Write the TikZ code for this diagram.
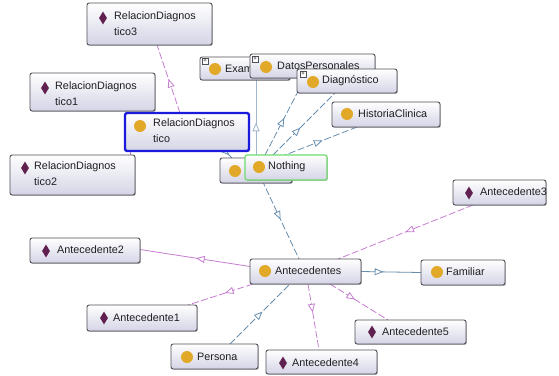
\documentclass[tikz,border=0pt]{standalone}
\usepackage{fontspec}
\setmainfont{Liberation Sans}
\usetikzlibrary{shapes.geometric,arrows.meta,decorations.markings,shadows,calc,backgrounds}
\definecolor{bord}{RGB}{80,80,88}
\definecolor{boxbot}{RGB}{212,212,230}
\definecolor{gold}{RGB}{226,168,40}
\definecolor{indc}{RGB}{96,32,80}
\definecolor{pinkE}{RGB}{198,124,208}
\definecolor{blueE}{RGB}{104,142,176}
\definecolor{blueL}{RGB}{160,182,206}
\definecolor{selb}{RGB}{26,26,220}
\definecolor{nothg}{RGB}{110,220,110}
\definecolor{txt}{RGB}{30,30,34}
\begin{document}
\begin{tikzpicture}[x=1pt,y=-1pt,
  ob/.style={draw=bord, line width=0.9pt, rounded corners=2.2pt, top color=white, bottom color=boxbot,
     anchor=north west, inner sep=0pt, outer sep=0pt,
     drop shadow={shadow xshift=0.9pt, shadow yshift=-0.9pt, opacity=0.45, fill=black!60}},
  cls/.style={circle, fill=gold, minimum size=12pt, inner sep=0pt},
  ind/.style={diamond, fill=indc, minimum width=8pt, minimum height=13pt, inner sep=0pt},
  lbl/.style={anchor=west, inner sep=0pt, font=\fontsize{10.8}{16}\selectfont, text=txt, align=left},
  plusb/.style={draw=bord, fill=white, line width=0.5pt, minimum size=6.5pt, inner sep=0pt,
     font=\fontsize{6}{6}\selectfont, anchor=center},
  edge/.style={line width=0.8pt},
  pinkd/.style={edge, draw=pinkE, dash pattern=on 7pt off 2.5pt},
  pinks/.style={edge, draw=pinkE},
  blued/.style={edge, draw=blueE, dash pattern=on 7pt off 2.5pt},
  blues/.style={edge, draw=blueE},
  midarr/.style={postaction={decorate}, decoration={markings,
     mark=at position #1 with {\arrow{Triangle[open, length=8.5pt, width=7pt, fill=white]}}}}
]
\useasboundingbox (0,0) rectangle (559,375);

% ---------- boxes ----------
% RelacionDiagnostico3
\node[ob, minimum width=125pt, minimum height=42pt] (rd3) at (87,3) {};
\node[ind] (rd3i) at (103,18) {};
\node[lbl, anchor=north west] (rd3t) at (114,11) {RelacionDiagnos\\tico3};
% RelacionDiagnostico1
\node[ob, minimum width=125pt, minimum height=38pt] (rd1) at (30,73) {};
\node[ind] (rd1i) at (45,88) {};
\node[lbl, anchor=north west] (rd1t) at (55,81) {RelacionDiagnos\\tico1};
% RelacionDiagnostico2
\node[ob, minimum width=125pt, minimum height=40pt] (rd2) at (10,155) {};
\node[ind] (rd2i) at (25,168) {};
\node[lbl, anchor=north west] (rd2t) at (34,161) {RelacionDiagnos\\tico2};
% Examen
\node[ob, minimum width=90pt, minimum height=23pt] (ex) at (200,57) {};
\node[plusb] (exp) at (205,61) {+};
\node[cls] (exi) at (215,69) {};
\node[lbl] (ext) at (225,69) {Examen};
% DatosPersonales
\node[ob, minimum width=125pt, minimum height=24pt] (dp) at (250,54) {};
\node[plusb] (dpp) at (255,59) {+};
\node[cls] (dpi) at (266,67) {};
\node[lbl] (dpt) at (277,66) {DatosPersonales};
% Diagnostico
\node[ob, minimum width=100pt, minimum height=24pt] (dg) at (297,69) {};
\node[plusb] (dgp) at (303,74) {+};
\node[cls] (dgi) at (313,82) {};
\node[lbl] (dgt) at (322,81) {Diagnóstico};
% HistoriaClinica
\node[ob, minimum width=108pt, minimum height=25pt] (hc) at (332,102) {};
\node[cls] (hci) at (347,114) {};
\node[lbl] (hct) at (358,114) {HistoriaClinica};
% hidden box behind Nothing
\node[ob, minimum width=72pt, minimum height=25pt] (th) at (220,158) {};
\node[cls] (thi) at (235,171) {};
% Nothing
\node[ob, draw=nothg, line width=1.2pt, minimum width=82pt, minimum height=25pt] (no) at (245,155) {};
\node[cls] (noi) at (259,167) {};
\node[lbl] (not) at (268,167) {Nothing};
% RelacionDiagnostico (selected)
\node[ob, draw=selb, line width=2.4pt, minimum width=124pt, minimum height=38pt] (rd) at (125,113) {};
\node[cls] (rdi) at (140,126) {};
\node[lbl, anchor=north west] (rdt) at (153,118) {RelacionDiagnos\\tico};
% Antecedente3
\node[ob, minimum width=93pt, minimum height=25pt] (a3) at (453,180) {};
\node[ind] (a3i) at (469,193) {};
\node[lbl] (a3t) at (480,192) {Antecedente3};
% Antecedente2
\node[ob, minimum width=110pt, minimum height=25pt] (a2) at (30,238) {};
\node[ind] (a2i) at (46,251) {};
\node[lbl] (a2t) at (57,250) {Antecedente2};
% Antecedentes
\node[ob, minimum width=111pt, minimum height=25pt] (an) at (250,259) {};
\node[cls] (ani) at (265,271) {};
\node[lbl] (ant) at (275,271) {Antecedentes};
% Familiar
\node[ob, minimum width=84pt, minimum height=25pt] (fa) at (421,260) {};
\node[cls] (fai) at (437,272) {};
\node[lbl] (fat) at (446,272) {Familiar};
% Antecedente1
\node[ob, minimum width=110pt, minimum height=26pt] (a1) at (87,305) {};
\node[ind] (a1i) at (104,318) {};
\node[lbl] (a1t) at (113,318) {Antecedente1};
% Antecedente5
\node[ob, minimum width=111pt, minimum height=24pt] (a5) at (355,320) {};
\node[ind] (a5i) at (372,332) {};
\node[lbl] (a5t) at (382,332) {Antecedente5};
% Persona
\node[ob, minimum width=87pt, minimum height=25pt] (pe) at (171,344) {};
\node[cls] (pei) at (187,357) {};
\node[lbl] (pet) at (197,357) {Persona};
% Antecedente4
\node[ob, minimum width=111pt, minimum height=24pt] (a4) at (266,350) {};
\node[ind] (a4i) at (283,363) {};
\node[lbl] (a4t) at (292,363) {Antecedente4};

% ---------- connectors ----------
\begin{pgfonlayer}{background}
\fill[white] (0,0) rectangle (559,375);
\draw[pinkd, midarr=0.5] ($(rd.north west)+(55,0)$) -- ($(rd3.south west)+(70,0)$);
\draw[edge, draw=blueL, midarr=0.43] ($(no.north west)+(11,0)$) -- ($(ex.south west)+(56,0)$);
\draw[blued, midarr=0.48] ($(no.north west)+(20,0)$) -- ($(dp.south west)+(55,0)$);
\draw[blued, midarr=0.44] ($(no.north west)+(28,0)$) -- ($(dg.south west)+(38,0)$);
\draw[blued, midarr=0.55] ($(no.north west)+(35,2)$) -- ($(hc.south west)+(25,0)$);
\draw[blues, midarr=0.6] ($(rd.south east)+(-24,0)$) -- ($(th.north west)+(12,0)$);
\draw[pinks] ($(rd.south west)+(5,0)$) -- ($(rd2.north east)+(-5,0)$);
\draw[blued, midarr=0.5] ($(no.south west)+(17,0)$) -- ($(an.north west)+(49,0)$);
\draw[pinkd, midarr=0.5] ($(a3.south west)+(20,0)$) -- ($(an.north west)+(88,0)$);
\draw[pinks, midarr=0.49] ($(an.west)+(0,-5)$) -- ($(a2.east)+(0,-1)$);
\draw[pinkd, midarr=0.43] ($(an.south west)+(3,0)$) -- ($(a1.north east)+(-9,0)$);
\draw[blued, midarr=0.54] ($(pe.north west)+(59,0)$) -- ($(an.south west)+(40,0)$);
\draw[pinkd, midarr=0.43] ($(an.south west)+(58,0)$) -- ($(a4.north west)+(53,0)$);
\draw[pinkd, midarr=0.43] ($(an.south west)+(80,0)$) -- ($(a5.north west)+(33,0)$);
\draw[blues, midarr=0.37] (an.east) -- (fa.west);
\end{pgfonlayer}
\end{tikzpicture}
\end{document}
